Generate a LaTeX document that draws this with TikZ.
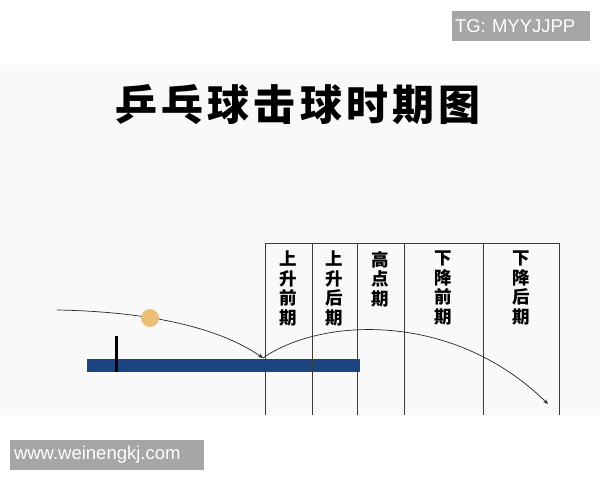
\documentclass[tikz,border=0pt]{standalone}
\usepackage{fontspec}
\setmainfont{Liberation Sans}
\newfontfamily\cjk{Noto Sans CJK SC}
\newfontfamily\cjktitle[LetterSpace=10]{Noto Sans CJK SC}
\usetikzlibrary{arrows.meta}
\definecolor{panel}{RGB}{249,249,249}
\definecolor{tableblue}{RGB}{27,70,128}
\definecolor{balltan}{RGB}{233,192,118}
\definecolor{wmgray}{RGB}{166,166,166}
\definecolor{rulegray}{RGB}{60,60,60}
\begin{document}
\begin{tikzpicture}[x=1pt,y=-1pt,
  colline/.style={draw=rulegray,line width=0.9pt},
  coltext/.style={anchor=north,inner sep=0pt,align=center,font=\cjk\bfseries\fontsize{17.5}{19.5}\selectfont},
  traj/.style={draw=black!85,line width=0.7pt,-{Stealth[length=5pt,width=4pt]}},
  wm/.style={fill=wmgray,text=white,inner sep=0pt,font=\fontsize{18.5}{18.5}\selectfont}]
\useasboundingbox (0,0) rectangle (600,480);
\fill[white] (0,0) rectangle (600,480);
\fill[panel] (0,65) rectangle (600,415);
% title
\node[inner sep=0pt,font=\cjktitle\bfseries\fontsize{42}{42}\selectfont] (title) at (298,105) {乒乓球击球时期图};
% table
\node[fill=tableblue,inner sep=0pt,minimum width=273pt,minimum height=13pt] (tbl) at (223.5,365.5) {};
\node[fill=black,inner sep=0pt,minimum width=3pt,minimum height=36pt] (net) at (116,354) {};
% column grid
\coordinate (t1) at (265,243); \coordinate (b1) at (265,415);
\coordinate (t2) at (312,243); \coordinate (b2) at (312,415);
\coordinate (t3) at (357,243); \coordinate (b3) at (357,415);
\coordinate (t4) at (404,243); \coordinate (b4) at (404,415);
\coordinate (t5) at (483,243); \coordinate (b5) at (483,415);
\coordinate (t6) at (559,243); \coordinate (b6) at (559,415);
\draw[colline] (t1) -- (t6);
\foreach \i in {1,...,6} \draw[colline] (t\i) -- (b\i);
\node[coltext] (c1) at (288.5,251) {上\\升\\前\\期};
\node[coltext] (c2) at (334.5,251) {上\\升\\后\\期};
\node[coltext] (c3) at (380.5,251) {高\\点\\期};
\node[coltext] (c4) at (443.5,251) {下\\降\\前\\期};
\node[coltext] (c5) at (521,251) {下\\降\\后\\期};
% trajectories
\coordinate (start) at (57,310);
\coordinate (bounce) at (263,358);
\coordinate (end) at (548,404);
\draw[traj] (start) .. controls (170,312) and (230,335) .. (bounce);
\draw[traj] (bounce) .. controls (320,318) and (452,310) .. (end);
\node[circle,fill=balltan,inner sep=0pt,minimum size=18pt] (ball) at (150,318) {};
% watermarks
\node[wm,minimum width=138pt,minimum height=30pt,text width=132pt,align=left] (wm1) at (521,26) {TG: MYYJJPP};
\node[wm,minimum width=194pt,minimum height=30pt,text width=186pt,align=left] (wm2) at (107,455) {www.weinengkj.com};
\end{tikzpicture}
\end{document}
